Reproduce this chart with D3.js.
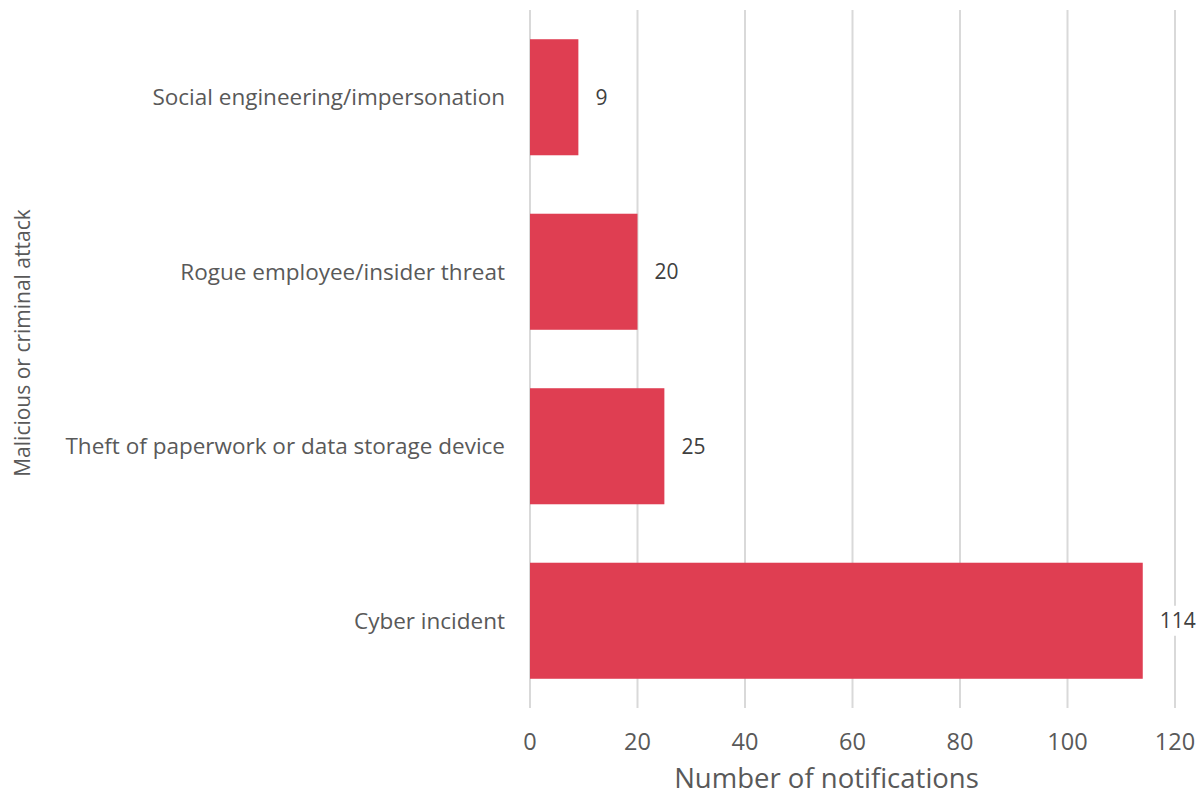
<!DOCTYPE html>
<html><head><meta charset="utf-8">
<script src="https://cdn.jsdelivr.net/npm/d3@7"></script>
<style>
html,body{margin:0;padding:0;background:#fff;}
svg{display:block;font-family:"Open Sans","Noto Sans",sans-serif;}
</style></head>
<body><svg id="c" width="1196" height="798"></svg>
<script>
const categories = ["Social engineering/impersonation","Rogue employee/insider threat","Theft of paperwork or data storage device","Cyber incident"];
const values = [9, 20, 25, 114];
const xTicks = [0, 20, 40, 60, 80, 100, 120];
const xTitle = "Number of notifications";
const yTitle = "Malicious or criminal attack";

const svg = d3.select("#c");
const x = d3.scaleLinear().domain([0,120]).range([530,1175]);
const y = d3.scaleBand().domain(categories).range([10,708]).paddingInner(0.335).paddingOuter(0.1675);

// gridlines
svg.append("g").selectAll("line").data(xTicks).join("line")
  .attr("x1", d=>x(d)).attr("x2", d=>x(d)).attr("y1", 10).attr("y2", 708)
  .attr("stroke", "#d9d9d9").attr("stroke-width", 2);

// bars
svg.append("g").selectAll("rect").data(values).join("rect")
  .attr("x", x(0)).attr("y", (d,i)=>y(categories[i]))
  .attr("width", d=>x(d)-x(0)).attr("height", y.bandwidth())
  .attr("fill", "#df3e52");

// value labels with white background
const vl = svg.append("g").selectAll("g").data(values).join("g")
  .attr("transform", (d,i)=>`translate(${x(d)+17},${y(categories[i])+y.bandwidth()/2})`);
vl.append("rect").attr("x",-3).attr("y",-15).attr("height",30)
  .attr("width", d=>String(d).length*13+6).attr("fill","#fff");
vl.append("text").text(d=>d).attr("dy","0.35em")
  .attr("font-size", 21).attr("fill", "#404040");

// category labels
svg.append("g").selectAll("text").data(categories).join("text")
  .attr("x", 505).attr("y", d=>y(d)+y.bandwidth()/2).attr("dy","0.35em")
  .attr("text-anchor","end").attr("font-size", 22.5).attr("fill","#595959")
  .text(d=>d);

// x tick labels
svg.append("g").selectAll("text").data(xTicks).join("text")
  .attr("x", d=>x(d)).attr("y", 742).attr("dy","0.35em")
  .attr("text-anchor","middle").attr("font-size", 23.5).attr("fill","#595959")
  .text(d=>d);

// axis titles
svg.append("text").attr("x", (x(0)+x(120))/2 - 26).attr("y", 778).attr("dy","0.35em")
  .attr("text-anchor","middle").attr("font-size", 27.5).attr("fill","#595959").text(xTitle);
svg.append("text").attr("transform","translate(23,343) rotate(-90)").attr("dy","0.35em")
  .attr("text-anchor","middle").attr("font-size", 21).attr("fill","#595959").text(yTitle);
</script></body></html>
